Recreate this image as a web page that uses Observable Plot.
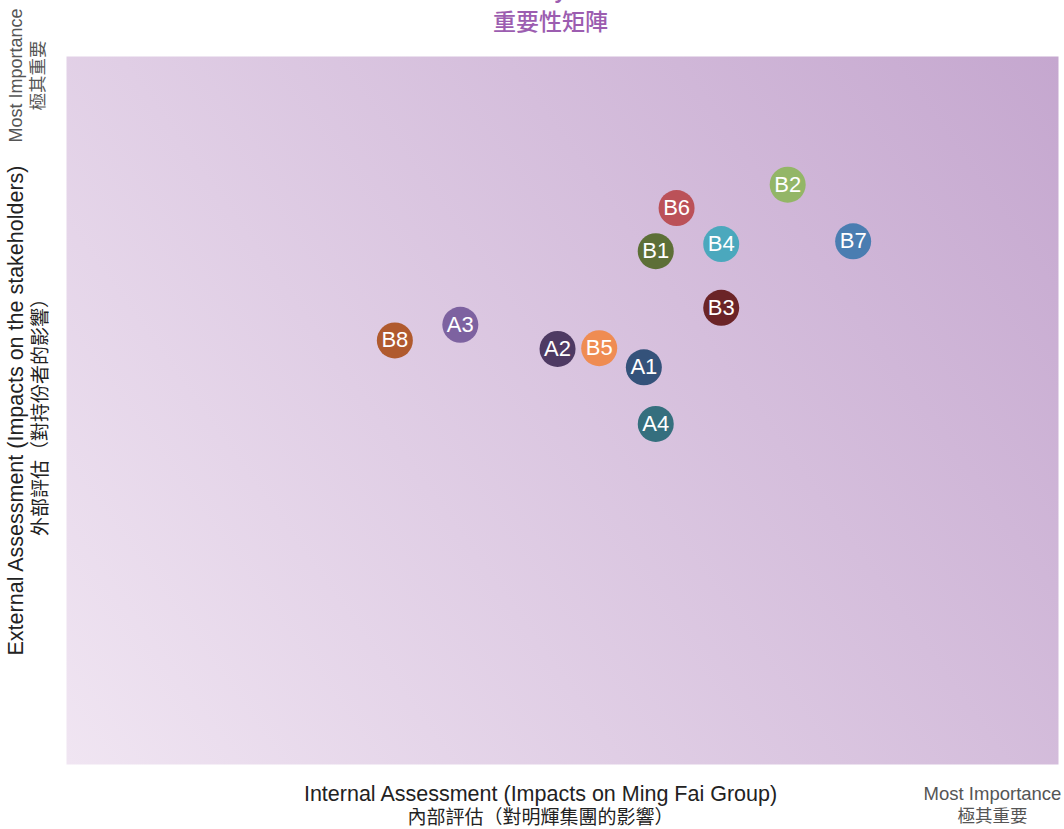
<!DOCTYPE html>
<html>
<head>
<meta charset="utf-8">
<script src="https://cdn.jsdelivr.net/npm/d3@7"></script>
<script src="https://cdn.jsdelivr.net/npm/@observablehq/plot@0.6"></script>
<style>
  html, body { margin: 0; padding: 0; background: #fff; }
  #chart { width: 1064px; height: 829px; }
</style>
</head>
<body>
<div id="chart"></div>
<script>
const labels = ["B8","A3","A2","B5","A1","A4","B6","B2","B1","B4","B7","B3"];
const internalScores = [33.1, 39.7, 49.5, 53.7, 58.2, 59.4, 61.5, 72.7, 59.4, 66.0, 79.3, 66.0];
const externalScores = [59.9, 62.1, 58.7, 58.8, 56.1, 48.1, 78.6, 81.9, 72.5, 73.5, 73.9, 64.5];
const colors = ["#b05a2e","#7d62a0","#4e3a63","#ef8c52","#34527a","#356f7e","#bb5158","#93b667","#5d6f37","#4ba8bd","#4a7db1","#6b2427"];

const titleEn = "Materiality Matrix";
const titleZh = "重要性矩陣";
const xLabelEn = "Internal Assessment (Impacts on Ming Fai Group)";
const xLabelZh = "內部評估（對明輝集團的影響）";
const yLabelEn = "External Assessment (Impacts on the stakeholders)";
const yLabelZh = "外部評估（對持份者的影響）";
const mostEn = "Most Importance";
const mostZh = "極其重要";

const data = labels.map((l, i) => ({label: l, x: internalScores[i], y: externalScores[i], color: colors[i]}));

const font = "'Liberation Sans', Arial, 'Noto Sans CJK TC', sans-serif";
const cjk = "'Noto Sans CJK TC', 'Liberation Sans', sans-serif";
const common = {textAnchor: "middle", lineAnchor: "middle"};

const plot = Plot.plot({
  width: 1064,
  height: 829,
  marginLeft: 66,
  marginRight: 6,
  marginTop: 56,
  marginBottom: 65,
  style: {fontFamily: font, background: "#fff"},
  x: {domain: [0, 100], axis: null},
  y: {domain: [0, 100], axis: null},
  marks: [
    Plot.frame({fill: "url(#bgGrad)", stroke: null}),
    Plot.dot(data, {x: "x", y: "y", r: 18, fill: "color", stroke: null}),
    Plot.text(data, {x: "x", y: "y", text: "label", fill: "#fff", fontSize: 22, dy: 0}),
    // titles
    Plot.text([titleEn], {...common, frameAnchor: "top", dx: -15, dy: -66, fontSize: 22, fill: "#9c5db0", fontWeight: "bold"}),
    Plot.text([titleZh], {...common, frameAnchor: "top", dx: -12, dy: -34, fontSize: 23, fill: "#9c5db0", fontWeight: 500, fontFamily: cjk}),
    // x axis label
    Plot.text([xLabelEn], {...common, frameAnchor: "bottom", dx: -22, dy: 30, fontSize: 21.5, fill: "#222"}),
    Plot.text([xLabelZh], {...common, frameAnchor: "bottom", dx: -22, dy: 53, fontSize: 19, fill: "#222", fontWeight: 400, fontFamily: cjk}),
    // bottom-right most importance
    Plot.text([mostEn], {...common, frameAnchor: "bottom-right", dx: -66, dy: 30, fontSize: 18.5, fill: "#555"}),
    Plot.text([mostZh], {...common, frameAnchor: "bottom-right", dx: -66, dy: 52, fontSize: 17.5, fill: "#555", fontFamily: cjk}),
    // y axis label
    Plot.text([yLabelEn], {...common, frameAnchor: "left", rotate: -90, dx: -50, dy: 0, fontSize: 21.5, fill: "#222"}),
    Plot.text([yLabelZh], {...common, frameAnchor: "left", rotate: -90, dx: -26, dy: 2, fontSize: 19, fill: "#222", fontWeight: 400, fontFamily: cjk}),
    // top-left most importance
    Plot.text([mostEn], {...common, frameAnchor: "top-left", rotate: -90, dx: -50, dy: 19, fontSize: 18, fill: "#555"}),
    Plot.text([mostZh], {...common, frameAnchor: "top-left", rotate: -90, dx: -28, dy: 19, fontSize: 17.5, fill: "#555", fontFamily: cjk})
  ]
});

// gradient background for the frame (bottom-left light to top-right dark)
const svg = d3.select(plot);
const defs = svg.insert("defs", ":first-child");
const grad = defs.append("linearGradient").attr("id", "bgGrad")
  .attr("gradientUnits", "userSpaceOnUse")
  .attr("x1", 66).attr("y1", 764).attr("x2", 1058).attr("y2", 56);
grad.append("stop").attr("offset", "0%").attr("stop-color", "#f0e5f2");
grad.append("stop").attr("offset", "100%").attr("stop-color", "#c5a7cf");

document.getElementById("chart").appendChild(plot);
</script>
</body>
</html>
